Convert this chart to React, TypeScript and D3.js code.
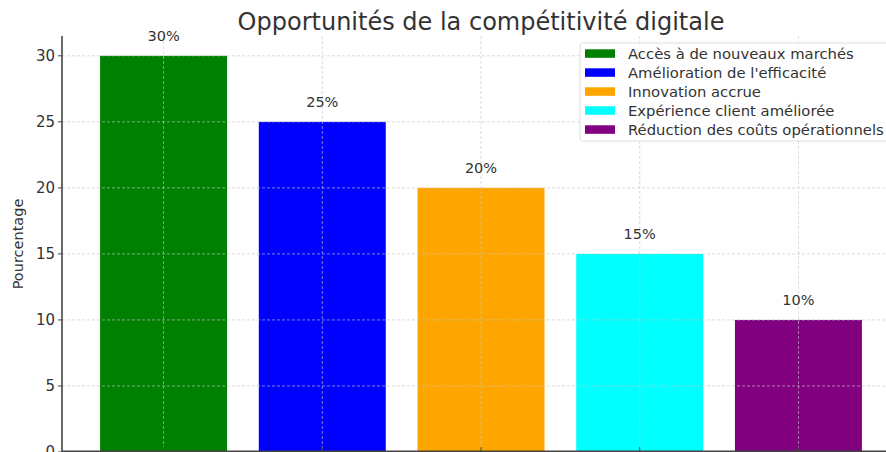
import React from "react";
import * as d3 from "d3";

const categories = [
  "Accès à de nouveaux marchés",
  "Amélioration de l'efficacité",
  "Innovation accrue",
  "Expérience client améliorée",
  "Réduction des coûts opérationnels",
];
const values = [30, 25, 20, 15, 10];
const colors = ["green", "blue", "orange", "cyan", "purple"];
const yTicks = [0, 5, 10, 15, 20, 25, 30];
const title = "Opportunités de la compétitivité digitale";
const yLabel = "Pourcentage";

const W = 886;
const H = 452;
const left = 62;
const right = 900;
const top = 36;
const bottom = 452;
const FONT = "DejaVu Sans, sans-serif";

export default function App() {
  const x = d3.scaleLinear().domain([-0.64, 4.64]).range([left, right]);
  const y = d3.scaleLinear().domain([0, 31.5]).range([bottom, top]);
  const bw = x(0.4) - x(0);
  const gridColor = "#c8c8c8";
  const textColor = "#333";

  return (
    <svg
      width={W}
      height={H}
      style={{ position: "absolute", left: 0, top: 0, background: "#fff" }}
      fontFamily={FONT}
    >
      {/* bars */}
      {values.map((v, i) => (
        <rect
          key={"b" + i}
          x={x(i) - bw}
          y={y(v)}
          width={bw * 2}
          height={y(0) - y(v)}
          fill={colors[i]}
        />
      ))}
      {/* grid */}
      {yTicks.map((t) => (
        <line
          key={"gy" + t}
          x1={left}
          x2={right}
          y1={y(t)}
          y2={y(t)}
          stroke={gridColor}
          strokeWidth={0.8}
          strokeDasharray="3,2"
          opacity={0.8}
        />
      ))}
      {values.map((_, i) => (
        <line
          key={"gx" + i}
          x1={x(i)}
          x2={x(i)}
          y1={top}
          y2={bottom}
          stroke={gridColor}
          strokeWidth={0.8}
          strokeDasharray="3,2"
          opacity={0.8}
        />
      ))}
      {/* spines */}
      <line x1={left} x2={left} y1={top} y2={bottom} stroke="#444" strokeWidth={1.6} />
      <line x1={left} x2={right} y1={bottom - 0.8} y2={bottom - 0.8} stroke="#444" strokeWidth={1.6} />
      {/* y ticks */}
      {yTicks.map((t) => (
        <g key={"yt" + t}>
          <line x1={left - 4} x2={left} y1={y(t)} y2={y(t)} stroke="#444" strokeWidth={1} />
          <text
            x={left - 7}
            y={y(t)}
            dy="0.36em"
            textAnchor="end"
            fontSize={15}
            fill={textColor}
          >
            {t}
          </text>
        </g>
      ))}
      {/* x ticks */}
      {values.map((_, i) => (
        <line key={"xt" + i} x1={x(i)} x2={x(i)} y1={bottom - 5} y2={bottom} stroke="#444" strokeWidth={1} />
      ))}
      {/* value labels */}
      {values.map((v, i) => (
        <text
          key={"vl" + i}
          x={x(i)}
          y={y(v) - 15}
          textAnchor="middle"
          fontSize={14.5}
          fill={textColor}
        >
          {v}%
        </text>
      ))}
      {/* y label */}
      <text
        transform={`translate(${23},${(top + bottom) / 2}) rotate(-90)`}
        textAnchor="middle"
        fontSize={14.5}
        fill={textColor}
      >
        {yLabel}
      </text>
      {/* title */}
      <text x={(left + right) / 2} y={30} textAnchor="middle" fontSize={24} fill={textColor}>
        {title}
      </text>
      {/* legend */}
      <rect x={580} y={43} width={330} height={98} rx={3} fill="#fff" fillOpacity={0.85} stroke="#ddd" />
      {categories.map((c, i) => (
        <g key={"lg" + i}>
          <rect x={585} y={53.3 + i * 19 - 4} width={30} height={8.5} fill={colors[i]} />
          <text x={628} y={53.3 + i * 19} dy="0.36em" fontSize={14.8} fill={textColor}>
            {c}
          </text>
        </g>
      ))}
    </svg>
  );
}
